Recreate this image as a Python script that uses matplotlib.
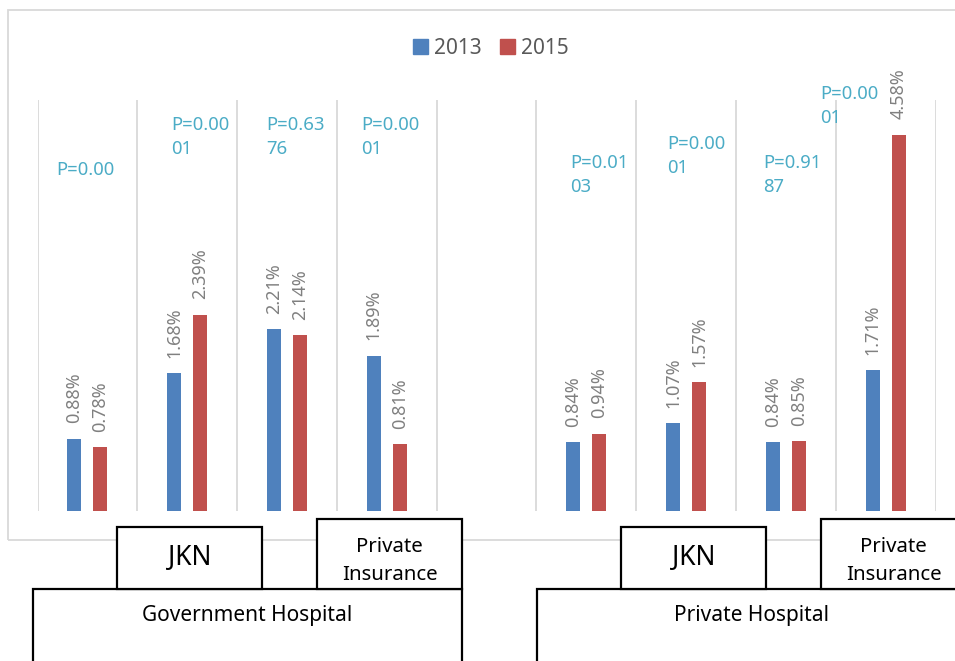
import matplotlib.pyplot as plt
from matplotlib.patches import Rectangle, Patch

plt.rcParams["font.family"] = ["Noto Sans", "DejaVu Sans"]

# data (percent)
gov_2013 = [0.88, 1.68, 2.21, 1.89]
gov_2015 = [0.78, 2.39, 2.14, 0.81]
priv_2013 = [0.84, 1.07, 0.84, 1.71]
priv_2015 = [0.94, 1.57, 0.85, 4.58]
p_values = ["P=0.00", "P=0.0001", "P=0.6376", "P=0.0001",
            "P=0.0103", "P=0.0001", "P=0.9187", "P=0.0001"]
hospitals = ["Government Hospital", "Private Hospital"]
insurance = ["JKN", "Private\nInsurance"]
years = ["2013", "2015"]

BLUE = "#4F81BD"
RED = "#C0504D"
PCOL = "#4BACC6"
GRID = "#D9D9D9"

W, H = 955, 661
fig = plt.figure(figsize=(W / 100, H / 100), dpi=100)

def fx(px):
    return px / W

def fy(py):
    return 1 - py / H

# outer chart border (runs off the right edge in the original)
fig.patches.append(Rectangle((fx(8), fy(540)), fx(970) - fx(8), fy(10) - fy(540),
                             transform=fig.transFigure, fill=False,
                             edgecolor=GRID, lw=1.3, zorder=0))

ax = fig.add_axes([fx(37.5), fy(511), fx(935.5) - fx(37.5), fy(100) - fy(511)])
ax.set_xlim(-0.5, 8.5)
ax.set_ylim(0, 5.0)
for s in ax.spines.values():
    s.set_visible(False)
ax.set_xticks([])
ax.set_yticks([])
ax.patch.set_alpha(0)
for g in range(10):
    ax.axvline(g - 0.5, color=GRID, lw=1.3, zorder=0)

# category 4 is left empty between the two hospital groups
xs = [0, 1, 2, 3, 5, 6, 7, 8]
v2013 = gov_2013 + priv_2013
v2015 = gov_2015 + priv_2015
off, bw = 0.13, 0.14
ax.bar([x - off for x in xs], v2013, width=bw, color=BLUE, zorder=2)
ax.bar([x + off for x in xs], v2015, width=bw, color=RED, zorder=2)

for x, a, b in zip(xs, v2013, v2015):
    for xx, v in ((x - off, a), (x + off, b)):
        ax.annotate(f"{v:.2f}%", (xx, v), xytext=(0, 11), textcoords="offset points",
                    rotation=90, ha="center", va="bottom", fontsize=13,
                    color="#808080")

# p-value text boxes (hand placed in the original)
p_pos = [(-0.315, 4.15), (0.838, 4.55), (1.79, 4.55), (2.74, 4.55),
         (4.836, 4.09), (5.81, 4.32), (6.77, 4.09), (7.34, 4.93)]
for (px, py), lab in zip(p_pos, p_values):
    txt = lab if len(lab) <= 6 else lab[:6] + "\n" + lab[6:]
    ax.text(px, py, txt, ha="left", va="center", fontsize=13.3, color=PCOL,
            linespacing=1.42, clip_on=False)

# legend
handles = [Patch(color=BLUE), Patch(color=RED)]
leg = fig.legend(handles, years, loc="center", bbox_to_anchor=(fx(491), fy(48)),
                 ncol=2, frameon=False, fontsize=15, handlelength=0.7,
                 handleheight=0.7, handletextpad=0.3, columnspacing=0.9)
for t in leg.get_texts():
    t.set_color("#595959")

# category boxes below the chart
def box(x0, y0, x1, y1, label, size, ty=None, ls=1.4):
    fig.patches.append(Rectangle((fx(x0), fy(y1)), fx(x1) - fx(x0), fy(y0) - fy(y1),
                                 transform=fig.transFigure, facecolor="white",
                                 edgecolor="black", lw=1.6, zorder=3))
    if ty is None:
        ty = (y0 + y1) / 2
    fig.text(fx((x0 + x1) / 2), fy(ty), label, ha="center", va="center",
             fontsize=size, color="black", linespacing=ls, zorder=4)

for shift, hosp in zip((0, 504), hospitals):
    box(33 + shift, 589, 462 + shift, 668, hosp, 15, ty=615)
    box(117 + shift, 527, 262 + shift, 589, insurance[0], 19)
    box(317 + shift, 519, 462 + shift, 589, insurance[1], 14.7, ty=561, ls=1.58)

fig.savefig("out.png", dpi=100)
